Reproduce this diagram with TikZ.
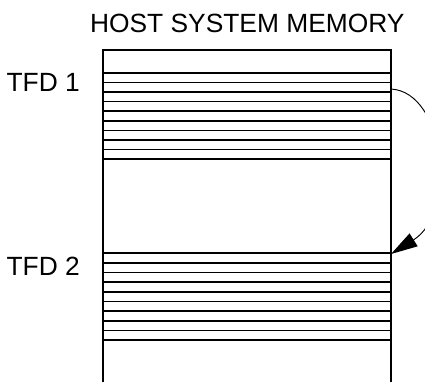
\documentclass[tikz,border=0pt]{standalone}
\usepackage{fontspec}
\setmainfont{Liberation Sans}
\usetikzlibrary{arrows.meta, positioning, calc}

\begin{document}
\begin{tikzpicture}[
  x=0.03cm, y=-0.03cm,
  membox/.style={
    rectangle,
    draw,
    line width=1.4pt,
    inner sep=0pt,
    outer sep=0pt,
    minimum width=8.64cm,
    minimum height=10.8cm
  },
  lbl/.style={
    inner sep=0pt,
    font=\fontsize{22.5}{26}\selectfont
  },
  slot/.style={line width=1.4pt},
  flow/.style={-{Triangle[length=0.8cm, width=0.45cm]}, line width=0.8pt}
]

\clip (0,0) rectangle (425,381);

% ============================================================
% Memory column
% ============================================================

\node[membox, anchor=north west] (mem) at (103,50) {};

\node[lbl] (title) at (247.3,23.3) {HOST SYSTEM MEMORY};

% ============================================================
% First descriptor
% ============================================================

\foreach \k in {0,...,9}
  \draw[slot] ($(mem.north west)+(0,22.7+9.62*\k)$) -- ($(mem.north east)+(0,22.7+9.62*\k)$);

\node[lbl, anchor=east] (tfd1) at ($(mem.north west)+(-23,32.5)$) {TFD 1};

% ============================================================
% Second descriptor
% ============================================================

\foreach \k in {0,...,9}
  \draw[slot] ($(mem.north west)+(0,203.3+9.63*\k)$) -- ($(mem.north east)+(0,203.3+9.63*\k)$);

\node[lbl, anchor=east] (tfd2) at ($(mem.north west)+(-23,216.7)$) {TFD 2};

% ============================================================
% Link from TFD 1 to TFD 2
% ============================================================

\coordinate (src) at ($(mem.north east)+(0,39)$);
\coordinate (dst) at ($(mem.north east)+(0,204)$);

\draw[flow] (src) .. controls +(54,3) and +(67,-42) .. (dst);

\end{tikzpicture}
\end{document}
